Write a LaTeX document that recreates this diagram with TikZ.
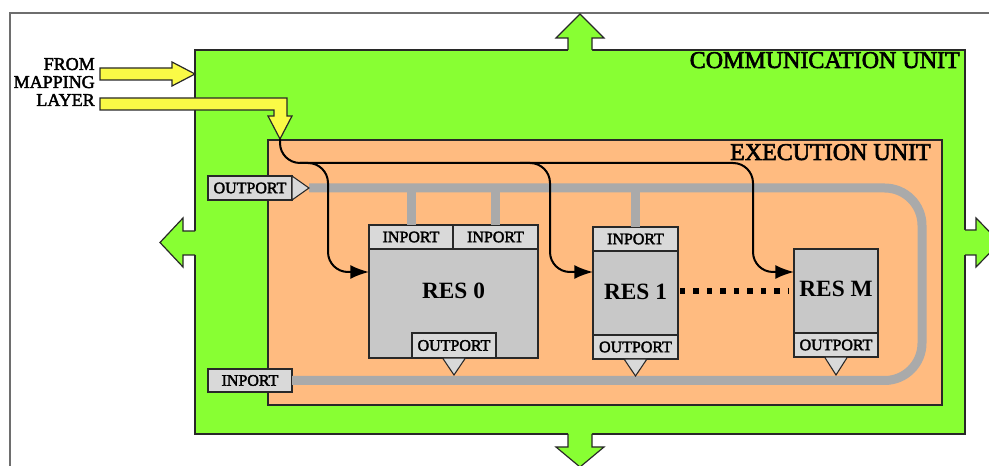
\documentclass[tikz,border=0pt]{standalone}
\usepackage{fontspec}
\setmainfont{Liberation Serif}
\newfontfamily\heavyserif{Liberation Serif}[FakeBold=2.5]
\usetikzlibrary{arrows.meta}
\definecolor{commgreen}{RGB}{136,255,51}
\definecolor{execorange}{RGB}{255,187,128}
\definecolor{resgray}{RGB}{200,200,200}
\definecolor{portgray}{RGB}{217,217,217}
\definecolor{busgray}{RGB}{170,170,170}
\definecolor{mapyellow}{RGB}{250,250,70}
\definecolor{edgecol}{RGB}{40,40,40}
\definecolor{framecol}{RGB}{110,110,110}
\begin{document}
\begin{tikzpicture}[x=0.75pt,y=-0.75pt,
  unitbox/.style={draw=edgecol, line width=0.9pt, inner sep=0pt, outer sep=0pt},
  greenline/.style={draw=edgecol, line width=0.9pt, line join=miter},
  yellowarrow/.style={fill=mapyellow, draw=edgecol, line width=0.9pt},
  bigtext/.style={font=\heavyserif\fontsize{18}{18}\selectfont, inner sep=0pt, anchor=base east},
  maptext/.style={font=\heavyserif\fontsize{13.5}{13.5}\selectfont, inner sep=0pt, anchor=base east},
  resbox/.style={draw=edgecol, fill=resgray, line width=0.8pt, inner sep=0pt, outer sep=0pt},
  portbox/.style={draw=edgecol, fill=portgray, line width=0.8pt, inner sep=0pt, outer sep=0pt,
    font=\heavyserif\fontsize{12}{12}\selectfont, minimum height=18pt},
  porttri/.style={draw=edgecol, fill=portgray, line width=0.8pt, line join=miter},
  reslabel/.style={font=\bfseries\fontsize{17.5}{17.5}\selectfont, inner sep=0pt},
  bus/.style={draw=busgray, line width=6.75pt},
  flow/.style={draw=black, line width=1.5pt, rounded corners=15pt, -{Latex[length=14pt,width=10.5pt]}},
  dotline/.style={draw=black, line width=4pt, dash pattern=on 4pt off 6.1pt}
]
\useasboundingbox (0,0) rectangle (989,466);
% outer frame
\draw[framecol, line width=0.8pt] (10,480) -- (10,13) -- (1000,13);

% communication unit
\node[unitbox, fill=commgreen, minimum width=577.5pt, minimum height=288pt] (comm) at (580,242) {};
% green arrows
\fill[commgreen] (568,52) -- (568,38) -- (556,38) -- (580,14) -- (604,38) -- (592,38) -- (592,52) -- cycle;
\draw[greenline] (568,50) -- (568,38) -- (556,38) -- (580,14) -- (604,38) -- (592,38) -- (592,50);
\fill[commgreen] (568,432) -- (568,447) -- (556,447) -- (580,467) -- (604,447) -- (592,447) -- (592,432) -- cycle;
\draw[greenline] (568,434) -- (568,447) -- (556,447) -- (580,467) -- (604,447) -- (592,447) -- (592,434);
\fill[commgreen] (197,231) -- (183,231) -- (183,218) -- (160,242.5) -- (183,267) -- (183,255) -- (197,255) -- cycle;
\draw[greenline] (195,231) -- (183,231) -- (183,218) -- (160,242.5) -- (183,267) -- (183,255) -- (195,255);
\fill[commgreen] (963,230) -- (976,230) -- (976,218) -- (1000,242.5) -- (976,267) -- (976,255) -- (963,255) -- cycle;
\draw[greenline] (965,230) -- (976,230) -- (976,218) -- (1000,242.5) -- (976,267) -- (976,255) -- (965,255);

\node[bigtext] (commlabel) at (960,68) {COMMUNICATION UNIT};

% execution unit
\node[unitbox, fill=execorange, minimum width=505.5pt, minimum height=198.75pt] (exec) at (605,272.5) {};
\node[bigtext] (execlabel) at (931,160) {EXECUTION UNIT};

% mapping layer text and arrows
\node[maptext] (from) at (95,70) {FROM};
\node[maptext] (mapping) at (95,88) {MAPPING};
\node[maptext] (layer) at (95,106) {LAYER};
\coordinate (ytip) at (280,139);
\draw[yellowarrow, line join=miter] (100,68) -- (172,68) -- (172,62) -- (comm.west |- 0,74) -- (172,86) -- (172,80) -- (100,80) -- cycle;
\draw[yellowarrow, line join=miter] (100,98) -- (287,98) -- (287,116) -- (292,116) -- (ytip) -- (268,116) -- (274,116) -- (274,110) -- (100,110) -- cycle;

% helper levels
\coordinate (bustop) at (0,188);
\coordinate (lvl) at (0,272);
\coordinate (dotlvl) at (0,291);

% external ports
\node[portbox, minimum width=63pt] (eout) at (250,188) {OUTPORT};
\node[portbox, minimum width=63pt, minimum height=17.25pt] (ein) at (250,380.5) {INPORT};

% bus
\draw[bus, rounded corners=28pt] ([xshift=12.75pt]eout.east) -- (922,188) -- (922,380.5) -- (ein.east);

% resources
\node[resbox, minimum width=126.75pt, minimum height=99.75pt] (res0) at (453.5,291.5) {};
\node[resbox, minimum width=63.75pt, minimum height=99pt] (res1) at (635.5,293) {};
\node[resbox, minimum width=63pt, minimum height=81pt] (resM) at (836,303) {};

\node[portbox, minimum width=63pt] (in0a) at (411,237) {INPORT};
\node[portbox, minimum width=63.75pt] (in0b) at (495.5,237) {INPORT};
\node[portbox, minimum width=63pt, minimum height=18.75pt] (out0) at (454,345.5) {OUTPORT};
\node[portbox, minimum width=63.75pt] (in1) at (635.5,239) {INPORT};
\node[portbox, minimum width=63.75pt] (out1) at (635.5,347) {OUTPORT};
\node[portbox, minimum width=63pt] (outM) at (836,345) {OUTPORT};

% bus stubs
\draw[bus] (in0a.north) -- (in0a.north |- bustop);
\draw[bus] (in0b.north) -- (in0b.north |- bustop);
\draw[bus] (in1.north) -- (in1.north |- bustop);

% port triangles
\draw[porttri] (eout.north east) -- ([xshift=12.75pt]eout.east) -- (eout.south east) -- cycle;
\draw[porttri] ([xshift=-8.6pt]out0.south) -- ([yshift=-12.75pt]out0.south) -- ([xshift=8.6pt]out0.south) -- cycle;
\draw[porttri] ([xshift=-8.6pt]out1.south) -- ([yshift=-12.75pt]out1.south) -- ([xshift=8.6pt]out1.south) -- cycle;
\draw[porttri] ([xshift=-8.6pt]outM.south) -- ([yshift=-13.5pt]outM.south) -- ([xshift=8.6pt]outM.south) -- cycle;

% resource labels
\node[reslabel] (l0) at (453.5,291) {RES 0};
\node[reslabel] (l1) at (635.5,292) {RES 1};
\node[reslabel] (lM) at (836,289) {RES M};

% dotted link
\draw[dotline, shorten <=1.5pt, shorten >=4.5pt] (res1.east |- dotlvl) -- (resM.west |- dotlvl);

% control flow lines
\draw[flow] (ytip) -- (280,163) -- (753,163) -- (753,272) -- (resM.west |- lvl);
\draw[flow] (300,163) -- (328,163) -- (328,272) -- (res0.west |- lvl);
\draw[flow] (520,163) -- (550,163) -- (550,272) -- (res1.west |- lvl);
\end{tikzpicture}
\end{document}
